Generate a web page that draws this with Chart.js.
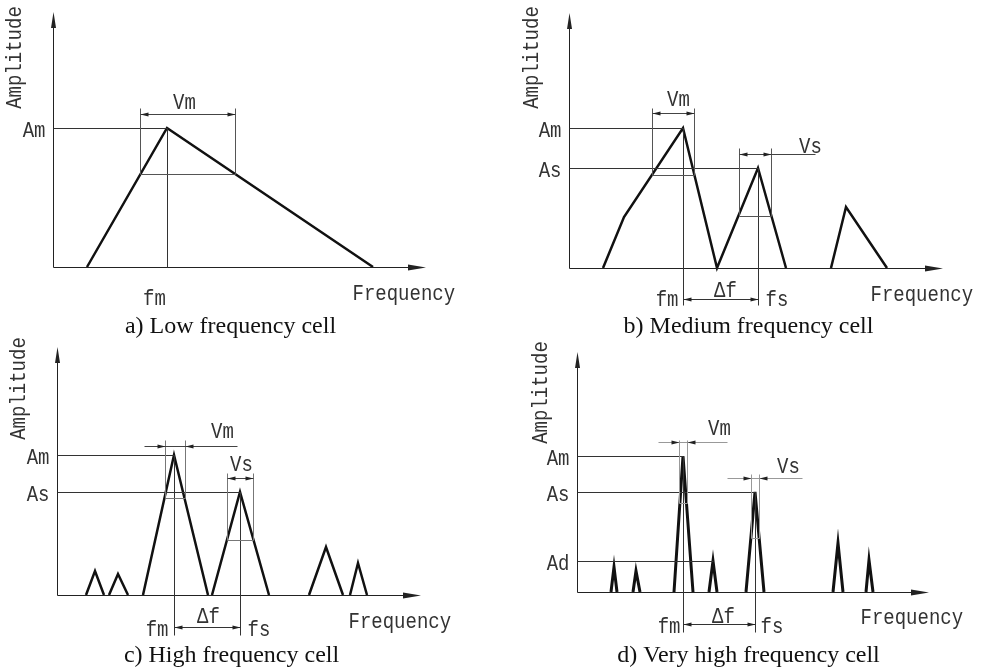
<!DOCTYPE html>
<html>
<head>
<meta charset="utf-8">
<script src="https://cdn.jsdelivr.net/npm/chart.js@4.4.1/dist/chart.umd.min.js"></script>
<style>
html, body { margin: 0; padding: 0; background: #fff; }
#sheet { position: relative; width: 985px; height: 671px; overflow: hidden; }
#sheet canvas { position: absolute; }
</style>
</head>
<body>
<div id="sheet">
  <canvas id="cellLow" width="490" height="345" style="left:0;top:0"></canvas>
  <canvas id="cellMedium" width="495" height="345" style="left:490px;top:0"></canvas>
  <canvas id="cellHigh" width="490" height="341" style="left:0;top:330px"></canvas>
  <canvas id="cellVeryHigh" width="495" height="341" style="left:490px;top:330px"></canvas>
</div>
<script>
// Spectrum outlines: [frequency, amplitude] corners, in axis units from the origin
const lowPeaks = [
    [[34, 0], [114, 139], [320, 0]],
];
const mediumPeaks = [
    [[34, 0], [55, 51], [114, 140], [148, 0], [189, 100], [217, 0]],
    [[262, 0], [277, 61], [318, 0]],
];
const highPeaks = [
    [[29, 0], [38, 24], [47, 0]],
    [[52, 0], [61, 21], [71, 0]],
    [[86, 0], [117, 140], [151, 0]],
    [[155, 0], [183, 103], [212, 0]],
    [[252, 0], [269, 48], [286, 0]],
    [[293, 0], [301, 32], [310, 0]],
];
const veryHighPeaks = [
    [[34, 0], [37, 25], [40, 0]],
    [[56, 0], [59, 21], [63, 0]],
    [[97, 0], [106, 136], [116, 0]],
    [[132, 0], [136, 31], [140, 0]],
    [[169, 0], [178, 100], [187, 0]],
    [[256, 0], [261, 49], [266, 0]],
    [[289, 0], [292, 32], [296, 0]],
];

// Reference amplitudes read back to the amplitude axis
const lowLevels = [{ name: 'Am', amp: 139, freq: 114 }];
const mediumLevels = [{ name: 'Am', amp: 140, freq: 114 }, { name: 'As', amp: 100, freq: 189 }];
const highLevels = [{ name: 'Am', amp: 140, freq: 117 }, { name: 'As', amp: 103, freq: 183 }];
const veryHighLevels = [
    { name: 'Am', amp: 136, freq: 106 },
    { name: 'As', amp: 100, freq: 178 },
    { name: 'Ad', amp: 31, freq: 136 },
];

// Peak widths (Vm, Vs): edges, measuring level, dimension line
const lowWidths = [
    { name: 'Vm', from: 87, to: 182, level: 93, top: 159, dim: 153, dimFrom: 87, dimTo: 182, arrows: 'out' },
];
const mediumWidths = [
    { name: 'Vm', from: 83, to: 125, level: 93, top: 160, dim: 155, dimFrom: 83, dimTo: 125, arrows: 'out' },
    { name: 'Vs', from: 170, to: 202, level: 52, top: 120, dim: 114, dimFrom: 170, dimTo: 246, arrows: 'out' },
];
const highWidths = [
    { name: 'Vm', from: 108, to: 128, level: 97, top: 155, dim: 149, dimFrom: 87, dimTo: 180, arrows: 'in' },
    { name: 'Vs', from: 170, to: 196, level: 55, top: 122, dim: 117, dimFrom: 170, dimTo: 196, arrows: 'out' },
];
const veryHighWidths = [
    { name: 'Vm', from: 102, to: 110, level: 89, top: 152, dim: 150, dimFrom: 81, dimTo: 150, arrows: 'in' },
    { name: 'Vs', from: 174, to: 182, level: 54, top: 118, dim: 114, dimFrom: 150, dimTo: 225, arrows: 'in' },
];

// Peak frequencies fm / fs
const lowFreqs = [{ name: 'fm', freq: 114, amp: 139 }];
const mediumFreqs = [{ name: 'fm', freq: 114, amp: 140 }, { name: 'fs', freq: 189, amp: 100 }];
const highFreqs = [{ name: 'fm', freq: 117, amp: 140 }, { name: 'fs', freq: 183, amp: 103 }];
const veryHighFreqs = [{ name: 'fm', freq: 106, amp: 136 }, { name: 'fs', freq: 178, amp: 100 }];

const INK = '#111';
const LABEL_FONT = '19px "Liberation Mono", "DejaVu Sans Mono", monospace';
const CAPTION_FONT = '24px "Liberation Serif", "Times New Roman", serif';

const panels = [
    {
        id: 'cellLow', caption: 'a) Low frequency cell',
        xMax: 373, yMax: 255, padding: { left: 53, right: 64, top: 12, bottom: 78 },
        peaks: lowPeaks, levels: lowLevels, widths: lowWidths, freqs: lowFreqs,
        markColor: '#555', drop: 0, deltaAt: null,
        labels: [
            { t: 'Vm', x: 131, y: 159, align: 'center' },
            { t: 'fm', x: 101, y: -37, align: 'center' },
            { t: 'Frequency', x: 299, y: -32, align: 'left' },
        ],
        ampAt: [-38, 210], captionAt: [177, -65],
    },
    {
        id: 'cellMedium', caption: 'b) Medium frequency cell',
        xMax: 374, yMax: 255, padding: { left: 79, right: 42, top: 13, bottom: 77 },
        peaks: mediumPeaks, levels: mediumLevels, widths: mediumWidths, freqs: mediumFreqs,
        markColor: '#555', drop: -37, deltaAt: -31,
        labels: [
            { t: 'Vm', x: 109, y: 163, align: 'center' },
            { t: 'Vs', x: 241, y: 116, align: 'center' },
            { t: 'fm', x: 109, y: -37, align: 'right' },
            { t: 'Δf', x: 156, y: -28, align: 'center' },
            { t: 'fs', x: 196, y: -37, align: 'left' },
            { t: 'Frequency', x: 301, y: -32, align: 'left' },
        ],
        ampAt: [-37, 211], captionAt: [179, -64],
    },
    {
        id: 'cellHigh', caption: 'c) High frequency cell',
        xMax: 364, yMax: 248, padding: { left: 57, right: 69, top: 17, bottom: 76 },
        peaks: highPeaks, levels: highLevels, widths: highWidths, freqs: highFreqs,
        markColor: '#777', drop: -40, deltaAt: -32,
        labels: [
            { t: 'Vm', x: 165, y: 158, align: 'center' },
            { t: 'Vs', x: 184, y: 125, align: 'center' },
            { t: 'fm', x: 111, y: -40, align: 'right' },
            { t: 'Δf', x: 151, y: -27, align: 'center' },
            { t: 'fs', x: 190, y: -40, align: 'left' },
            { t: 'Frequency', x: 291, y: -32, align: 'left' },
        ],
        ampAt: [-38, 207], captionAt: [174, -66],
    },
    {
        id: 'cellVeryHigh', caption: 'd) Very high frequency cell',
        xMax: 352, yMax: 240, padding: { left: 87, right: 56, top: 22, bottom: 79 },
        peaks: veryHighPeaks, levels: veryHighLevels, widths: veryHighWidths, freqs: veryHighFreqs,
        markColor: '#999', drop: -40, deltaAt: -32,
        labels: [
            { t: 'Vm', x: 142, y: 158, align: 'center' },
            { t: 'Vs', x: 211, y: 120, align: 'center' },
            { t: 'fm', x: 103, y: -40, align: 'right' },
            { t: 'Δf', x: 146, y: -30, align: 'center' },
            { t: 'fs', x: 183, y: -40, align: 'left' },
            { t: 'Frequency', x: 283, y: -31, align: 'left' },
        ],
        ampAt: [-36, 200], captionAt: [171, -69],
    },
];

const seg = (ctx, x1, y1, x2, y2) => {
    ctx.beginPath();
    ctx.moveTo(x1, y1);
    ctx.lineTo(x2, y2);
    ctx.stroke();
};

// filled arrow head with its tip at (x, y), pointing along (dx, dy)
const head = (ctx, x, y, dx, dy, len, half) => {
    ctx.beginPath();
    ctx.moveTo(x, y);
    ctx.lineTo(x - dx * len - dy * half, y - dy * len + dx * half);
    ctx.lineTo(x - dx * len + dy * half, y - dy * len - dx * half);
    ctx.closePath();
    ctx.fill();
};

// the drawing font is a narrow one, so stretch the mono face a little
const label = (ctx, t, x, y, align) => {
    ctx.save();
    ctx.font = LABEL_FONT;
    ctx.textAlign = align;
    ctx.textBaseline = 'alphabetic';
    ctx.translate(x, y);
    ctx.scale(1, 1.15);
    ctx.fillText(t, 0, 0);
    ctx.restore();
};

const schematic = {
    id: 'schematic',
    afterDraw(chart, args, o) {
        const { ctx, chartArea: a, scales } = chart;
        const px = (v) => Math.round(scales.x.getPixelForValue(v)) + 0.5;
        const py = (v) => Math.round(scales.y.getPixelForValue(v)) + 0.5;
        ctx.save();
        ctx.lineWidth = 1;
        ctx.fillStyle = '#222';
        ctx.strokeStyle = '#222';

        // axes with arrow tips
        const x0 = px(0), y0 = py(0);
        seg(ctx, x0, y0, a.right - 4, y0);
        seg(ctx, x0, y0, x0, a.top + 4);
        head(ctx, a.right, y0, 1, 0, 18, 3);
        head(ctx, x0, a.top, 0, -1, 16, 2.5);

        // reference amplitude lines
        ctx.strokeStyle = '#333';
        o.levels.forEach((l) => {
            seg(ctx, x0, py(l.amp), px(l.freq), py(l.amp));
            ctx.fillStyle = '#333';
            label(ctx, l.name, x0 - 8, py(l.amp) + 8, 'right');
        });

        // peak frequency lines
        o.freqs.forEach((f) => seg(ctx, px(f.freq), py(f.amp), px(f.freq), py(o.drop)));
        if (o.deltaAt !== null && o.freqs.length > 1) {
            const d = py(o.deltaAt);
            const f1 = px(o.freqs[0].freq), f2 = px(o.freqs[1].freq);
            seg(ctx, f1, d, f2, d);
            ctx.fillStyle = '#222';
            head(ctx, f1, d, -1, 0, 8, 2);
            head(ctx, f2, d, 1, 0, 8, 2);
        }

        // width dimensions
        o.widths.forEach((w) => {
            const l = px(w.from), r = px(w.to);
            ctx.strokeStyle = o.markColor;
            seg(ctx, l, py(w.top), l, py(w.level));
            seg(ctx, r, py(w.top), r, py(w.level));
            seg(ctx, l, py(w.level), r, py(w.level));
            ctx.strokeStyle = o.markColor === '#999' ? '#999' : '#444';
            const d = py(w.dim);
            seg(ctx, px(w.dimFrom), d, px(w.dimTo), d);
            ctx.fillStyle = '#222';
            if (w.arrows === 'out') {
                head(ctx, l, d, -1, 0, 8, 2);
                head(ctx, r, d, 1, 0, 8, 2);
            } else {
                head(ctx, l, d, 1, 0, 8, 2);
                head(ctx, r, d, -1, 0, 8, 2);
            }
        });

        // text
        ctx.fillStyle = '#333';
        o.labels.forEach((t) => label(ctx, t.t, px(t.x), py(t.y), t.align));

        ctx.save();
        ctx.translate(px(o.ampAt[0]), py(o.ampAt[1]));
        ctx.rotate(-Math.PI / 2);
        ctx.font = LABEL_FONT;
        ctx.textAlign = 'center';
        ctx.textBaseline = 'middle';
        ctx.scale(1, 1.15);
        ctx.fillText('Amplitude', 0, 0);
        ctx.restore();

        ctx.fillStyle = INK;
        ctx.font = CAPTION_FONT;
        ctx.textAlign = 'center';
        ctx.textBaseline = 'alphabetic';
        ctx.fillText(o.caption, px(o.captionAt[0]), py(o.captionAt[1]));
        ctx.restore();
    },
};

panels.forEach((p) => {
    const ctx = document.getElementById(p.id).getContext('2d');
    new Chart(ctx, {
        type: 'scatter',
        data: {
            datasets: p.peaks.map((pk) => ({
                data: pk.map(([x, y]) => ({ x, y })),
                showLine: true,
                borderColor: INK,
                borderWidth: p.id === 'cellVeryHigh' ? 3 : 2.5,
                pointRadius: 0,
                tension: 0,
                fill: false,
                clip: false,
            })),
        },
        options: {
            responsive: false,
            animation: false,
            devicePixelRatio: 1,
            layout: { padding: p.padding },
            plugins: {
                legend: { display: false },
                tooltip: { enabled: false },
                schematic: {
                    caption: p.caption, levels: p.levels, widths: p.widths, freqs: p.freqs,
                    labels: p.labels, markColor: p.markColor, drop: p.drop, deltaAt: p.deltaAt,
                    ampAt: p.ampAt, captionAt: p.captionAt,
                },
            },
            scales: {
                x: { type: 'linear', min: 0, max: p.xMax, display: false },
                y: { type: 'linear', min: 0, max: p.yMax, display: false },
            },
        },
        plugins: [schematic],
    });
});
</script>
</body>
</html>
